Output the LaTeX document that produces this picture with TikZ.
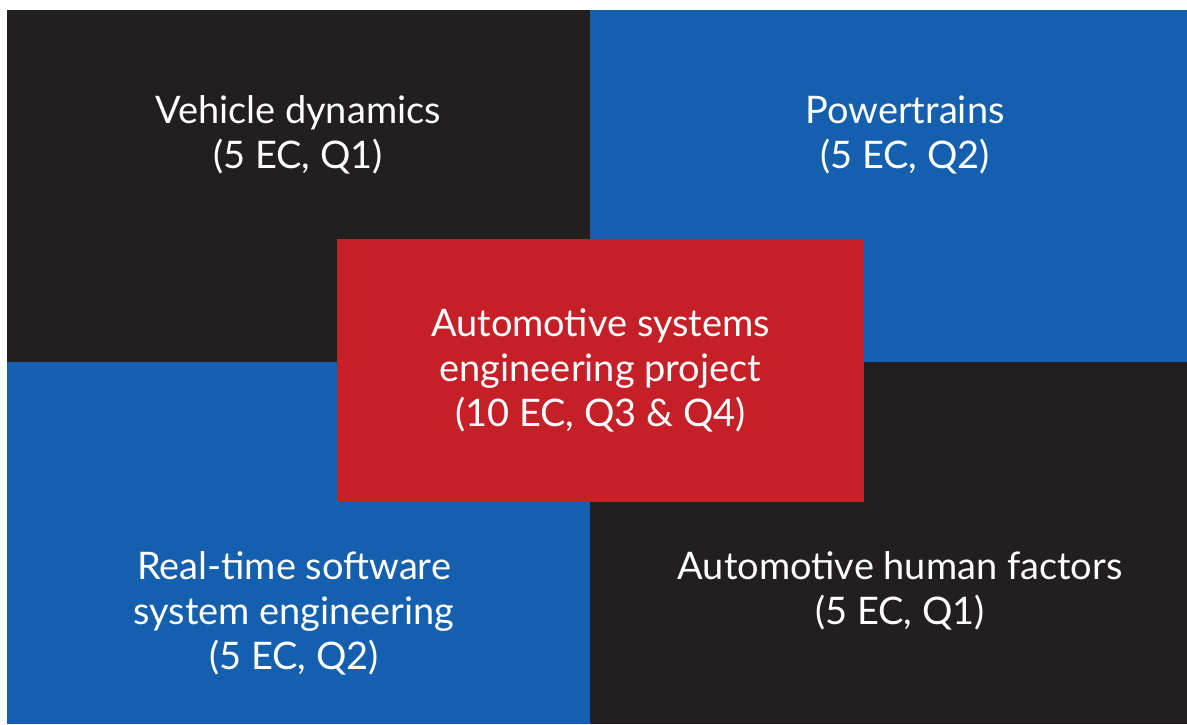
\documentclass[tikz,border=0pt]{standalone}
\usepackage{fontspec}
\setmainfont{Lato}
\usetikzlibrary{calc}
\definecolor{blockdark}{HTML}{231F20}
\definecolor{blockblue}{HTML}{1560AE}
\definecolor{blockred}{HTML}{C51F27}

\begin{document}
\begin{tikzpicture}[
    x=0.02cm, y=-0.02cm,
    dark block/.style={fill=blockdark},
    blue block/.style={fill=blockblue},
    course/.style={text=white, align=center,
        font=\fontsize{21.6}{25.6}\selectfont},
    project/.style={course, fill=blockred, inner sep=0pt,
        minimum width=527*0.02cm, minimum height=263*0.02cm}
    ]
    \useasboundingbox (0,0) rectangle (1187,724);
    % Blocks
    \fill[dark block] (7,10) rectangle (590,362);
    \fill[blue block] (590,10) rectangle (1187,362);
    \fill[blue block] (7,362) rectangle (590,724);
    \fill[dark block] (590,362) rectangle (1187,724);
    % Courses
    \node[course] (vehdyn) at (298,135) {Vehicle dynamics\\(5 EC, Q1)};
    \node[course] (powertr) at (905,135) {Powertrains\\(5 EC, Q2)};
    \node[course] (realtime) at (294,613) {Real-time software\\system engineering\\(5 EC, Q2)};
    \node[course] (humanf) at (900,591) {Automotive human factors\\(5 EC, Q1)};
    % Project
    \node[project] (asep) at (600.5,370.5) {Automotive systems\\engineering project\\(10 EC, Q3 \& Q4)};
\end{tikzpicture}
\end{document}
